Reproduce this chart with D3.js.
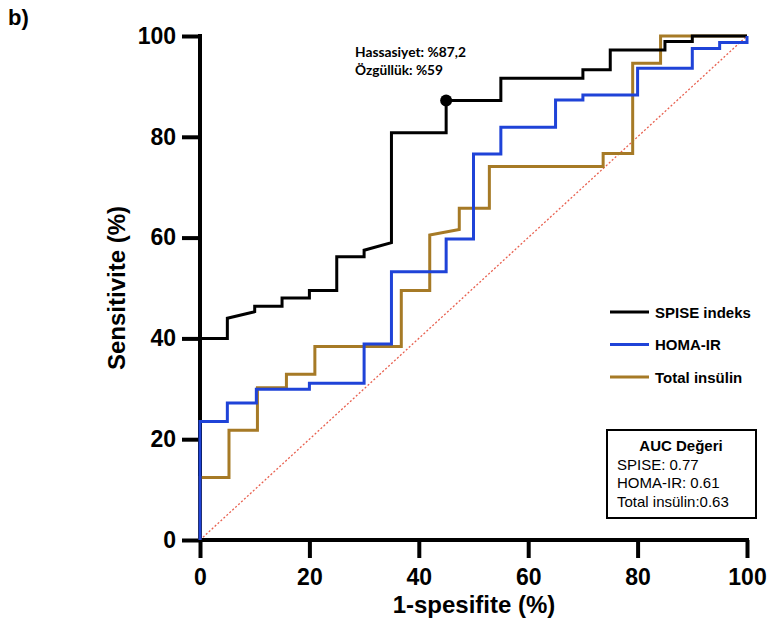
<!DOCTYPE html>
<meta charset="utf-8">
<body style="margin:0;background:#fff">
<style>
  .axis path, .axis line { stroke: #000; stroke-width: 4; }
  .axis text { font-family: "Liberation Sans", Arial, sans-serif; font-weight: bold; font-size: 23px; fill: #000; }
  .curve { fill: none; stroke-width: 3; stroke-linejoin: miter; }
  .lab { font-family: "Liberation Sans", Arial, sans-serif; font-weight: bold; font-size: 24px; }
  .legend text { font-family: "Liberation Sans", Arial, sans-serif; font-weight: bold; font-size: 15px; }
  .auc text { font-family: "Liberation Sans", Arial, sans-serif; font-size: 15px; }
  .note { font-family: Lato, "Open Sans", sans-serif; font-weight: bold; font-size: 14px; }
</style>
<svg width="771" height="632"></svg>
<script src="https://d3js.org/d3.v7.min.js"></script>
<script>

// ROC curves (1-spesifite %, sensitivite %)
var spiseX = [0, 0, 5, 5, 10, 10, 15, 15, 20, 20, 25, 25, 30, 30, 35, 35, 45, 45, 55, 55, 70, 70, 75, 75, 85, 85, 90, 90, 100];
var spiseY = [0, 40, 40, 44, 45.3, 46.4, 46.4, 48, 48, 49.5, 49.5, 56.2, 56.2, 57.5, 59, 80.8, 80.8, 87.2, 87.2, 91.6, 91.6, 93.3, 93.3, 97.2, 97.2, 98.9, 98.9, 100, 100];

var homaX = [0, 0, 5, 5, 10.3, 10.3, 20, 20, 30, 30, 35, 35, 45, 45, 50, 50, 55, 55, 65, 65, 70, 70, 80, 80, 90, 90, 95, 95, 100, 100];
var homaY = [0, 23.5, 23.5, 27.2, 27.2, 29.9, 29.9, 31.1, 31.1, 38.9, 38.9, 53.2, 53.2, 59.7, 59.7, 76.6, 76.6, 81.9, 81.9, 87.3, 87.3, 88.3, 88.3, 93.6, 93.6, 97.5, 97.5, 98.7, 98.7, 100];

var insX = [0, 0, 5.3, 5.3, 10.5, 10.5, 15.8, 15.8, 21, 21, 36.8, 36.8, 42, 42, 47.4, 47.4, 52.9, 52.9, 73.7, 73.7, 79.1, 79.1, 84.2, 84.2, 100];
var insY = [0, 12.4, 12.4, 21.8, 21.8, 30.2, 30.2, 32.9, 32.9, 38.4, 38.4, 49.5, 49.5, 60.5, 61.6, 65.8, 65.8, 74.1, 74.1, 76.7, 76.7, 94.6, 94.6, 100, 100];

var seriesNames = ["SPISE indeks", "HOMA-IR", "Total insülin"];
var seriesColors = ["#000000", "#1f43d8", "#a67a26"];

var cutoff = [45, 87.2];
var noteLines = ["Hassasiyet: %87,2", "Özgüllük: %59"];

var aucTitle = "AUC Değeri";
var aucLines = ["SPISE: 0.77", "HOMA-IR: 0.61", "Total insülin:0.63"];

var ticks = [0, 20, 40, 60, 80, 100];

var svg = d3.select("svg");

var x = d3.scaleLinear().domain([0, 100]).range([200, 747]);
var y = d3.scaleLinear().domain([0, 100]).range([540, 36]);

// chance line
svg.append("line")
    .attr("x1", x(0)).attr("y1", y(0))
    .attr("x2", x(100)).attr("y2", y(100))
    .attr("stroke", "#e8604f")
    .attr("stroke-width", 1.3)
    .attr("stroke-dasharray", "2,2");

// axes
svg.append("g")
    .attr("class", "axis")
    .attr("transform", "translate(0,540)")
    .call(d3.axisBottom(x).tickValues(ticks).tickSize(18).tickSizeOuter(0).tickPadding(11))
    .call(function (g) { g.select(".domain").attr("d", "M" + (x(0) - 2) + ",0H" + (x(100) + 2)); });

svg.append("g")
    .attr("class", "axis")
    .attr("transform", "translate(200,0)")
    .call(d3.axisLeft(y).tickValues(ticks).tickSize(18).tickSizeOuter(0).tickPadding(6))
    .call(function (g) { g.select(".domain").attr("d", "M0," + (y(100) - 2) + "V" + (y(0) + 2)); });

// curves
var line = d3.line()
    .x(function (d) { return x(d[0]); })
    .y(function (d) { return y(d[1]); });

var curves = [
  { xs: insX, ys: insY, color: seriesColors[2] },
  { xs: spiseX, ys: spiseY, color: seriesColors[0] },
  { xs: homaX, ys: homaY, color: seriesColors[1] }
];

svg.append("g").selectAll("path")
    .data(curves)
    .enter().append("path")
      .attr("class", "curve")
      .attr("stroke", function (d) { return d.color; })
      .attr("d", function (d) { return line(d3.zip(d.xs, d.ys)); });

// cutoff point
svg.append("circle")
    .attr("cx", x(cutoff[0]))
    .attr("cy", y(cutoff[1]))
    .attr("r", 6)
    .attr("fill", "#000");

svg.append("text").attr("class", "note")
    .attr("x", 355).attr("y", 57)
    .attr("textLength", 111).attr("lengthAdjust", "spacingAndGlyphs")
    .text(noteLines[0]);
svg.append("text").attr("class", "note")
    .attr("x", 355).attr("y", 75)
    .attr("textLength", 88).attr("lengthAdjust", "spacingAndGlyphs")
    .text(noteLines[1]);

// axis titles
svg.append("text").attr("class", "lab")
    .attr("x", 474).attr("y", 613)
    .attr("text-anchor", "middle")
    .text("1-spesifite (%)");

svg.append("text").attr("class", "lab")
    .attr("transform", "translate(125,288) rotate(-90)")
    .attr("text-anchor", "middle")
    .text("Sensitivite (%)");

svg.append("text")
    .attr("x", 8).attr("y", 25)
    .style("font-family", "Liberation Sans, Arial, sans-serif")
    .style("font-weight", "bold")
    .style("font-size", "22px")
    .text("b)");

// legend
var legend = svg.append("g").attr("class", "legend");
var legRows = legend.selectAll("g")
    .data(seriesNames)
    .enter().append("g")
      .attr("transform", function (d, i) { return "translate(610," + (312 + i * 32.5) + ")"; });
legRows.append("line")
    .attr("x1", 0).attr("x2", 39)
    .attr("stroke", function (d, i) { return seriesColors[i]; })
    .attr("stroke-width", 3);
legRows.append("text")
    .attr("x", 45).attr("y", 5.5)
    .text(function (d) { return d; });

// AUC box
var auc = svg.append("g").attr("class", "auc");
auc.append("rect")
    .attr("x", 607).attr("y", 430)
    .attr("width", 149).attr("height", 88)
    .attr("fill", "#fff")
    .attr("stroke", "#000")
    .attr("stroke-width", 2);
auc.append("text")
    .attr("x", 681).attr("y", 451)
    .attr("text-anchor", "middle")
    .style("font-weight", "bold")
    .text(aucTitle);
auc.selectAll("text.row")
    .data(aucLines)
    .enter().append("text")
      .attr("class", "row")
      .attr("x", 617)
      .attr("y", function (d, i) { return 469.5 + i * 18.5; })
      .text(function (d) { return d; });

</script>
</body>
